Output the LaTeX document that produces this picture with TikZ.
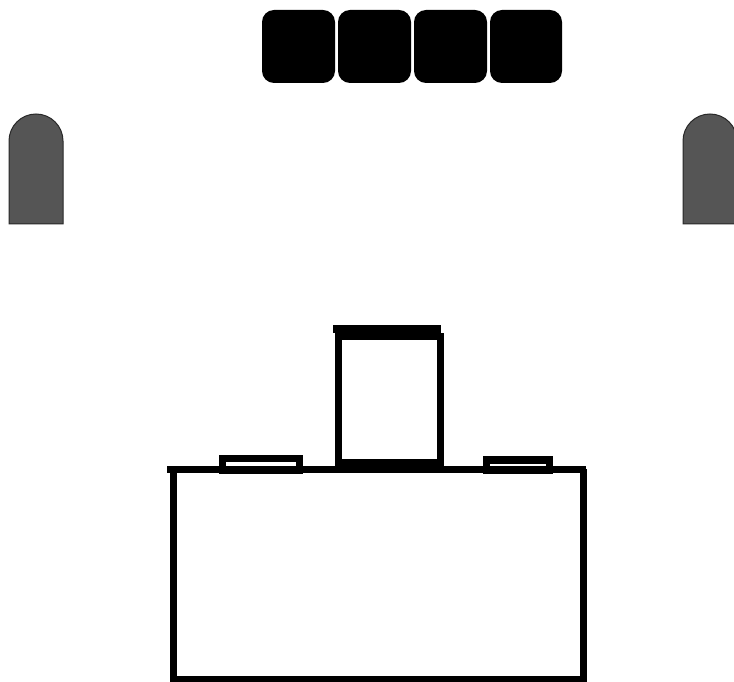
\documentclass[tikz,border=0pt]{standalone}
\usepackage{tkz-euclide}
\usetikzlibrary{calc}
\definecolor{SpeakerClr}{RGB}{85,85,85}
\definecolor{EdgeClr}{RGB}{40,40,40}

\begin{document}
\begin{tikzpicture}[x=1pt,y=1pt]
\useasboundingbox (0,0) rectangle (734,681);
\tkzSetUpLine[line width=6pt,color=black]

% screen
\fill[rounded corners=12pt] (262,598) rectangle (335,671);
\fill[rounded corners=12pt] (338,598) rectangle (411,671);
\fill[rounded corners=12pt] (414,598) rectangle (487,671);
\fill[rounded corners=12pt] (490,598) rectangle (562,671);

% speakers
\filldraw[fill=SpeakerClr,draw=EdgeClr,line width=1pt]
  (9,457) -- (9,540) arc (180:0:27) -- (63,457) -- cycle;
\filldraw[fill=SpeakerClr,draw=EdgeClr,line width=1pt]
  (683,457) -- (683,540) arc (180:0:27) -- (737,457) -- cycle;

% desk
\tkzDefPoints{173.5/212/A,173.5/2/B,583/2/C,583/212/D}
\tkzDefPoints{167/212/E,586/212/F}
\tkzDrawPolySeg[line width=7pt,line cap=butt,line join=miter](A,B,C,D)
\tkzDrawSegment[line width=7pt,line cap=butt](E,F)

% small boxes on the desk
\tkzDefPoints{222/211/G,299.5/211/H,299.5/222.5/I,222/222.5/J}
\tkzDrawPolygon[line width=7pt,line join=miter](G,H,I,J)
\tkzDefPoints{486.5/211/T,549.5/211/U,549.5/221/V,486.5/221/W}
\tkzDrawPolygon[line width=7pt,line join=miter](T,U,V,W)

% monitor
\tkzDefPoints{338.5/218.5/K,440.5/218.5/L,440.5/344.5/M,338.5/344.5/N}
\tkzDrawPolygon[line width=7pt,line join=miter](K,L,M,N)
\tkzDefPoints{333/352/P,441/352/Q,334/211.5/R,442/211.5/S}
\tkzDrawSegment[line width=8pt,line cap=butt](P,Q)
\tkzDrawSegment[line width=7pt,line cap=butt](R,S)

\end{tikzpicture}
\end{document}
